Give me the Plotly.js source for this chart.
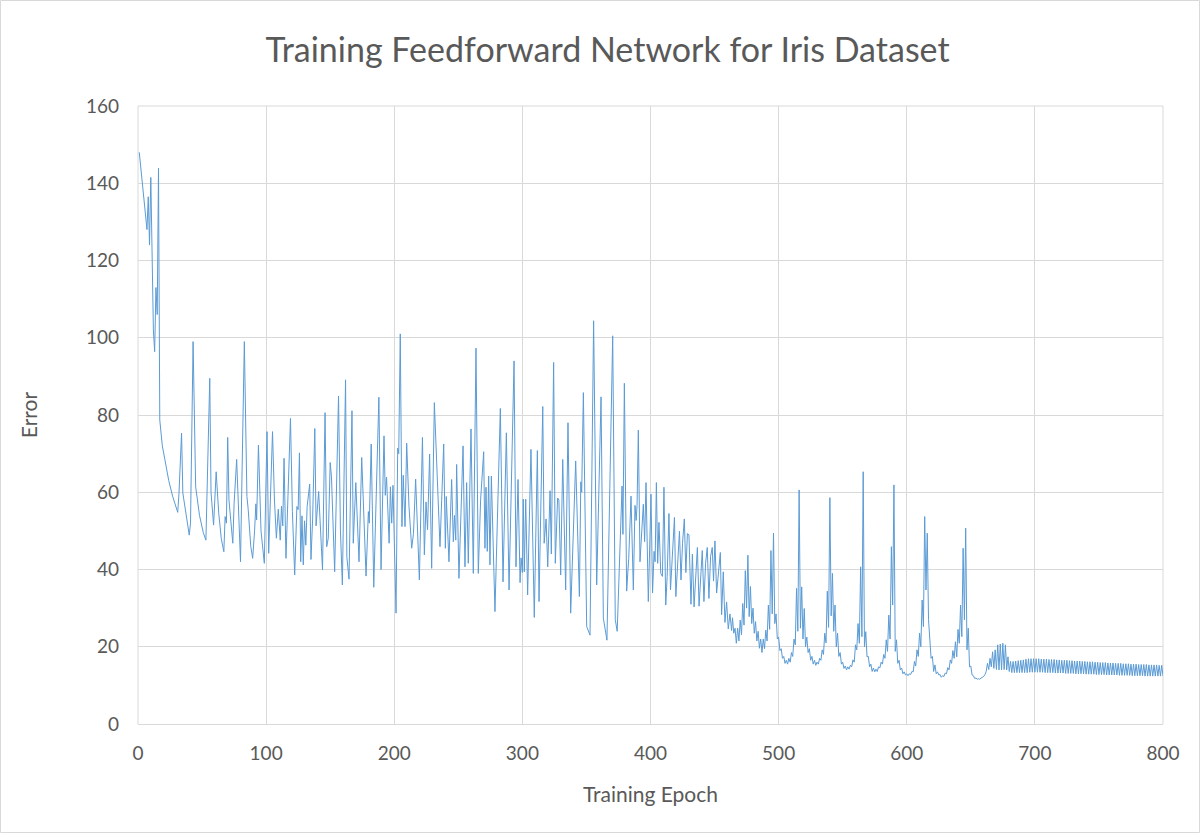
<!DOCTYPE html>
<html>
<head>
<meta charset="utf-8">
<script src="https://cdn.plot.ly/plotly-3.0.1.min.js"></script>
<style>html,body{margin:0;padding:0;background:#fff;}#chart{width:1203px;height:836px;}</style>
</head>
<body>
<div id="chart"></div>
<script>
// Early part of the curve: (epoch, error) vertices
var earlyEpochs = [1,3,5,7,8,9,10,11,12,13,14,15,16,17,19,21,24,27,31,32,34,35,38,40,41,43,45,48,51,53,56,57,59,61,63,65,67,68,69,70,71,73,74,75,77,80,83,85,86,88,89.5,91,92,92.6,94,96,98.6,100.7,102,105,106.5,108,109.5,111,112,113,114,115.5,119,120.5,122.3,124,125,126,127,128,129,130,131,132,134,135,136.3,138,139,141,144,146,147.3,148.5,150,151,153.5,156.5,158,159.5,162,163,164.7,167,168,170,172.5,174.6,178,179.8,180.5,182,184,188,189.7,192,193,194,196,197,198,199,201.4,202.7,203.5,204.7,206,207,208.4,209.7,211.5,213.6,215,216.7,219.6,222,223.5,224.8,226,227.6,229.2,231.3,235.7,238.6,239.9,240.6,242.7,244.8,246.1,247,248,248.7,250.5,253.7,255.2,256.5,257.8,259.9,261.7,263.8,265.6,267.4,269.8,270.8,271.6,272.6,273.7,274.7,275.8,278.6,282.8,284.9,287.5,289.6,293.5,295,296.6,298.2,299,300,300.7,301.5,302.6,304.1,306.7,309.3,311.7,313,315.9,317,318.5,319.8,321.6,322.6,324.4,325.7,327.5,328.5,329.9,331.5,333.8,335.6,337.7,341.6,344.5,345.6,346.3,347.6,350.2,352.8,355.6,358,361.4,363.2,366,370.5,372.5,374,377.8,378.5,379.6,381.4,383,384.8,386.6,387.9,388.8,389.5,390.5,391.8,392.8,394.4,395.4,396.5,398.3,400.4,401.6,402.8,403.6,404.6,405.6,406.6,408,409.3,410.5,411.9,413,414.4,415.6,417,418.7,419.8,421,422.6,423.8,425,426.4,427.6,428.8,430,431.6,432.7,434,435.3,436.6,437.9,439.2,440.4,441.7,443,444.3,445.6,446.9,448.2,449.2,450.3,451.6,452.9,454.5,455.5,456.8,458.1,459.4,460.7,462,463.3];
var earlyErrors = [148,141,136,128,136.5,124,141.5,115,102,96.4,113,106,143.9,78.7,72,68.4,63,59,54.8,59.8,75.3,59.8,53,48.9,52,99,61.4,54,49.5,47.6,89.5,60,51.5,65.3,54.6,48,44.6,53.7,52,74.2,58,50,46.8,57,68.5,42,99,58.9,55.6,46,42.9,50,57,52.8,72.2,50,41.6,75.7,44.2,75.7,58,48.1,55.6,47.6,56.4,51.3,68.8,42.9,79.1,55,38.6,56.3,55.5,70.2,42,53.9,41.2,52.6,46.3,56.3,62.1,42.6,53.1,76.5,51.3,60.2,39.9,80.6,45.9,48.1,67.7,64,39.4,84.9,50,36,89.1,43.3,37.5,81.1,46.8,62.5,42,69,38.3,55,52,72.5,35.4,84.6,40,74.6,59.2,63.9,46.8,61.4,52,61.8,28.7,71.4,70,101,51.1,64.4,51.1,72.7,56.4,45.5,49.3,63.4,37.3,74.2,43.8,57.5,50.3,69.9,40.3,83.2,45.9,72.5,45.5,58.9,42,63.3,47.2,54,47.6,67.2,37.7,72,40.7,62.5,41.6,76.4,39,97.3,39,58,70.5,45.5,61.3,44.7,64.2,41.2,64.2,29.1,81.7,36.8,75.4,34.7,94,40.7,63.3,36.6,43,39.2,58.2,39.4,58.2,33.4,71.1,27.6,70.8,31.7,82.2,46.8,53.1,40.7,60.4,44,93.6,41.6,58.5,58,38.6,68.5,34.7,78,28.7,68.1,33,62.7,60,85.8,25.2,23,104.4,36,84.7,27.4,21.7,100.5,27,24,61.6,49.1,88.2,34.4,42.9,59,34.7,56.6,52.7,56.6,76.1,42,47.6,56.9,47.2,62.5,31.7,59.5,33.9,44.7,42,62.5,41.6,52.2,39,38.2,61.3,30.8,38.2,54.5,34.7,42,53.5,33,42,49.9,37.3,46.8,53.1,39.2,49.3,49,31,44,30.3,37.3,45.7,30.5,39.9,44.9,31.7,41.6,45.7,32.5,43.4,45.7,37,47.4,33.9,38.2,44.4,28.3,39.4,26.3,31.6,24.6,28.5,24.2];

// Later part: one error value per epoch, starting at epoch 464
var lateStartEpoch = 464;
var lateErrors = [
27.5,23.5,24.8,20.9,24.8,21.5,26.9,23.1,31.2,25.6,39.7,30,43.7,27.8,35.6,26,30,23.5,26.5,21.5,24,19.6,22,18.5,22,19.5,24.3,21.5,30.8,24.5,44.9,28.5,49.4,26,28.5,22,
22.5,19,19.5,17,17.5,15.7,16.5,15.5,17,16,18.5,17.5,22,20.5,35.1,24,60.6,24.8,35.5,22,29.9,20,22.5,18.5,19.5,16.5,17.5,15.5,16.5,15.2,16,15.5,17,16.5,19.2,18,23.5,21,34.4,25,58.6,28,39,24,
30.8,20,23.5,17.5,18.5,15.5,16,14.4,15,14,14.8,14.2,15.2,14.8,16.6,16,20.5,19.2,26,20.9,40.7,22.6,65.3,20,23.9,17.4,17.5,14.8,15.5,13.6,14.5,13.5,14.2,13.6,14.8,14.5,16,15.5,18,17,21.8,18.8,28.2,22,45.9,30.8,61.9,18.8,21.8,15.7,16.5,14,14.5,13,13.5,12.7,13,12.5,13,12.8,13.6,13.5,16.2,15,19.2,17.5,23.5,20,32.1,25.2,53.7,34.7,49.4,27,22.6,17,17.5,13.6,
15.3,13,13.5,12.7,12.8,12.1,12.5,12.3,13.2,13,14.6,14,16.6,15.7,19,17,21.3,17.4,24.5,20.9,30.8,22.6,45.5,27,50.7,19.2,24.8,14.8,15,12.7,12.5,11.8,11.9,11.6,11.7,11.6,11.9,12,12.3,12.8,13.6,15.7,14.1,17,14.8,18.7,14.4,19.2,14.1,20.5,14,20.7,14,20.9,14.1,20.5,14,17.4,
13.6,16.2,13.3,16.2,13.3,16.3,13.3,16.4,13.3,16.5,13.3,16.6,13.3,16.8,13.3,16.9,13.4,16.9,13.4,16.9,13.4,
16.9,13.4,16.9,13.4,16.8,13.4,16.8,13.3,16.8,13.3,16.7,13.3,16.7,13.3,16.7,13.2,16.6,13.2,16.6,13.2,16.5,13.2,16.5,13.1,16.5,13.1,16.4,13.1,16.4,13.1,16.3,13.0,16.3,13.0,16.3,13.0,16.2,13.0,16.2,12.9,16.1,12.9,16.1,12.9,16.1,12.9,16.0,12.8,16.0,12.8,15.9,12.8,15.9,12.8,15.9,12.7,15.8,12.7,15.8,12.7,15.8,12.7,15.7,12.7,15.7,12.6,15.7,12.6,15.6,12.6,15.6,12.6,15.6,12.6,15.5,12.5,15.5,12.5,15.5,12.5,15.4,12.5,15.4,12.5,15.4,12.4,15.4,12.4,15.3,12.4,15.3,12.4,15.3,12.4,15.3,12.4,15.2,12.4,15.2,12.4
];

var xTicks = [0,100,200,300,400,500,600,700,800];
var yTicks = [0,20,40,60,80,100,120,140,160];
var chartTitle = 'Training Feedforward Network for Iris Dataset';
var xTitle = 'Training Epoch';
var yTitle = 'Error';

var xs = earlyEpochs.slice();
var ys = earlyErrors.slice();
for (var i = 0; i < lateErrors.length; i++) {
  var e = lateStartEpoch + i;
  if (e > 800) break;
  xs.push(e);
  ys.push(lateErrors[i]);
}

var FONT = 'Lato, "Open Sans", sans-serif';
var GRID = '#D9D9D9';
var TXT = '#595959';

var trace = {
  x: xs, y: ys, type: 'scatter', mode: 'lines',
  line: {color: '#5B9BD5', width: 1},
  hoverinfo: 'x+y'
};

var layout = {
  width: 1203, height: 836,
  margin: {l: 138, r: 40, t: 106, b: 112},
  paper_bgcolor: '#ffffff', plot_bgcolor: '#ffffff',
  showlegend: false,
  font: {family: FONT, color: TXT},
  title: {text: chartTitle, font: {family: FONT, size: 34, color: TXT}, x: 0.505, xanchor: 'center', y: 0.94, yanchor: 'middle', xref: 'container', yref: 'container'},
  xaxis: {
    range: [0, 800], tickvals: xTicks, ticktext: xTicks.map(String),
    showgrid: true, gridcolor: GRID, gridwidth: 1,
    zeroline: false, showline: false, ticks: '',
    tickfont: {family: FONT, size: 19, color: TXT},
    ticklabelstandoff: 16,
    title: {text: xTitle, font: {family: FONT, size: 21, color: TXT}, standoff: 24},
    automargin: false
  },
  yaxis: {
    range: [0, 160], tickvals: yTicks, ticktext: yTicks.map(String),
    showgrid: true, gridcolor: GRID, gridwidth: 1,
    zeroline: true, zerolinecolor: GRID, zerolinewidth: 1,
    showline: false, ticks: '',
    tickfont: {family: FONT, size: 19, color: TXT},
    ticklabelstandoff: 18,
    title: {text: yTitle, font: {family: FONT, size: 21, color: TXT}, standoff: 42},
    automargin: false
  },
  shapes: [
    {type: 'rect', xref: 'paper', yref: 'paper',
     x0: (0.5 - 138) / 1025, x1: (1199.5 - 138) / 1025,
     y0: (724 - 832.5) / 618, y1: (724 - 0.5) / 618,
     line: {color: GRID, width: 1}, fillcolor: 'rgba(0,0,0,0)', layer: 'below'},
    {type: 'line', xref: 'paper', yref: 'paper', x0: 1, x1: 1, y0: 0, y1: 1, line: {color: GRID, width: 1}, layer: 'below'},
    {type: 'line', xref: 'paper', yref: 'paper', x0: 0, x1: 1, y0: 1, y1: 1, line: {color: GRID, width: 1}, layer: 'below'},
    {type: 'line', xref: 'paper', yref: 'paper', x0: 0, x1: 0, y0: 0, y1: 1, line: {color: GRID, width: 1}, layer: 'below'}
  ]
};

Plotly.newPlot('chart', [trace], layout, {displayModeBar: false, staticPlot: true});
</script>
</body>
</html>
